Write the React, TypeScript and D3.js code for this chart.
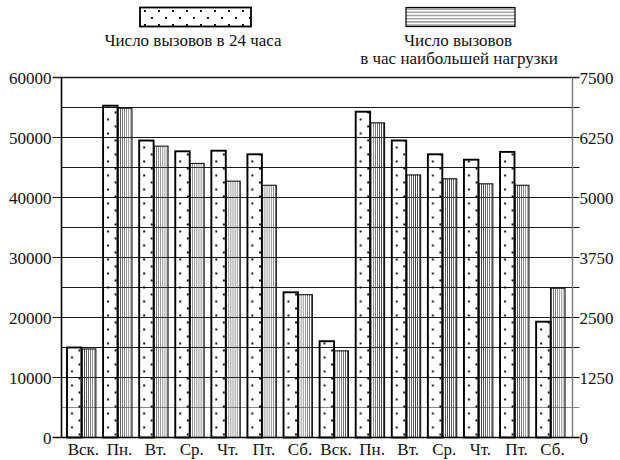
import React from "react";
import * as d3 from "d3";

const days = ["Вск.", "Пн.", "Вт.", "Ср.", "Чт.", "Пт.", "Сб.", "Вск.", "Пн.", "Вт.", "Ср.", "Чт.", "Пт.", "Сб."];
const calls24h = [15000, 55300, 49500, 47700, 47800, 47200, 24200, 16050, 54300, 49500, 47200, 46300, 47600, 19300];
const callsPeakHour = [1845, 6860, 6070, 5710, 5340, 5255, 2975, 1805, 6555, 5470, 5390, 5285, 5255, 3110];
const leftTicks = [0, 10000, 20000, 30000, 40000, 50000, 60000];
const rightTicks = [0, 1250, 2500, 3750, 5000, 6250, 7500];
const gridValues = [5000, 10000, 15000, 20000, 25000, 30000, 35000, 40000, 45000, 50000, 55000, 60000];
const legend24h = "Число вызовов в 24 часа";
const legendPeak = ["Число вызовов", "в час наибольшей нагрузки"];

const W = 620;
const H = 460;
const L = 61.5;
const R = 572.5;
const T = 77.5;
const B = 437.5;

export default function App() {
  const idx = days.map((_, i) => String(i));
  const x0 = d3.scaleBand<string>().domain(idx).range([67, 565]).paddingInner(0.2).paddingOuter(0);
  const x1 = d3.scaleBand<string>().domain(["a", "b"]).range([0, x0.bandwidth()]);
  const yL = d3.scaleLinear().domain([0, 60000]).range([B, T]);
  const yR = d3.scaleLinear().domain([0, 7500]).range([B, T]);
  const bw = x1.bandwidth();

  return (
    <div style={{ position: "absolute", left: 0, top: 0, width: W, height: H }}>
      <svg width={W} height={H} className="chart">
        <style>{`.chart text { font-family: "Liberation Serif", Tinos; font-size: 17px; fill: #111; }`}</style>
        <defs>
          {idx.map((k) => {
            const xa = (x0(k) as number) + (x1("a") as number);
            const xb = (x0(k) as number) + (x1("b") as number);
            return (
              <React.Fragment key={k}>
                <pattern id={`dots-${k}`} patternUnits="userSpaceOnUse" x={xa} y={B} width={bw} height={14}>
                  <rect x={bw * 0.28} y={3} width={1.9} height={1.9} fill="#000" />
                  <rect x={bw * 0.8} y={10} width={1.9} height={1.9} fill="#000" />
                </pattern>
                <pattern id={`vlines-${k}`} patternUnits="userSpaceOnUse" x={xb} y={0} width={bw / 7} height={10}>
                  <line x1={bw / 14} x2={bw / 14} y1={0} y2={10} stroke="#444" strokeWidth={0.7} />
                </pattern>
              </React.Fragment>
            );
          })}
          <pattern id="legDots" patternUnits="userSpaceOnUse" x={140} y={7} width={14} height={14}>
            <rect x={4} y={3} width={1.9} height={1.9} fill="#000" />
            <rect x={11} y={10} width={1.9} height={1.9} fill="#000" />
          </pattern>
          <pattern id="legLines" patternUnits="userSpaceOnUse" x={406} y={7.5} width={10} height={3.2}>
            <line x1={0} x2={10} y1={1.6} y2={1.6} stroke="#333" strokeWidth={0.8} />
          </pattern>
        </defs>

        <rect x={140} y={7.5} width={111} height={19} fill="url(#legDots)" stroke="#000" strokeWidth={1.8} />
        <text x={193} y={46} textAnchor="middle">{legend24h}</text>
        <rect x={406} y={7.5} width={109} height={19} fill="url(#legLines)" stroke="#000" strokeWidth={1.2} />
        <text x={458} y={46} textAnchor="middle">{legendPeak[0]}</text>
        <text x={459} y={64} textAnchor="middle">{legendPeak[1]}</text>

        {gridValues.map((v) => (
          <line key={v} x1={v % 10000 === 0 ? L - 9 : L} x2={R + 7} y1={yL(v)} y2={yL(v)}
            stroke={v === 5000 ? "#888" : "#1a1a1a"} strokeWidth={v === 60000 ? 1.6 : 1.2} />
        ))}

        {idx.map((k, i) => {
          const xa = (x0(k) as number) + (x1("a") as number);
          const xb = (x0(k) as number) + (x1("b") as number);
          return (
            <g key={k}>
              <rect x={xb} y={yR(callsPeakHour[i])} width={bw} height={B - yR(callsPeakHour[i])}
                fill={`url(#vlines-${k})`} stroke="#111" strokeWidth={1.1} />
              <rect x={xa} y={yL(calls24h[i])} width={bw} height={B - yL(calls24h[i])}
                fill={`url(#dots-${k})`} stroke="#000" strokeWidth={1.9} />
            </g>
          );
        })}

        <line x1={L} x2={L} y1={T} y2={B} stroke="#000" strokeWidth={1.6} />
        <line x1={R} x2={R} y1={T} y2={B} stroke="#777" strokeWidth={1.4} />
        <line x1={L - 9} x2={R + 7} y1={B} y2={B} stroke="#000" strokeWidth={1.6} />

        {leftTicks.map((v) => (
          <text key={v} x={L - 10} y={yL(v) + 6} textAnchor="end">{String(v)}</text>
        ))}
        {rightTicks.map((v) => (
          <text key={v} x={R + 7} y={yR(v) + 6} textAnchor="start">{String(v)}</text>
        ))}
        {idx.map((k, i) => (
          <text key={k} x={(x0(k) as number) + x0.bandwidth() / 2 + 2} y={455} textAnchor="middle">{days[i]}</text>
        ))}
      </svg>
    </div>
  );
}
